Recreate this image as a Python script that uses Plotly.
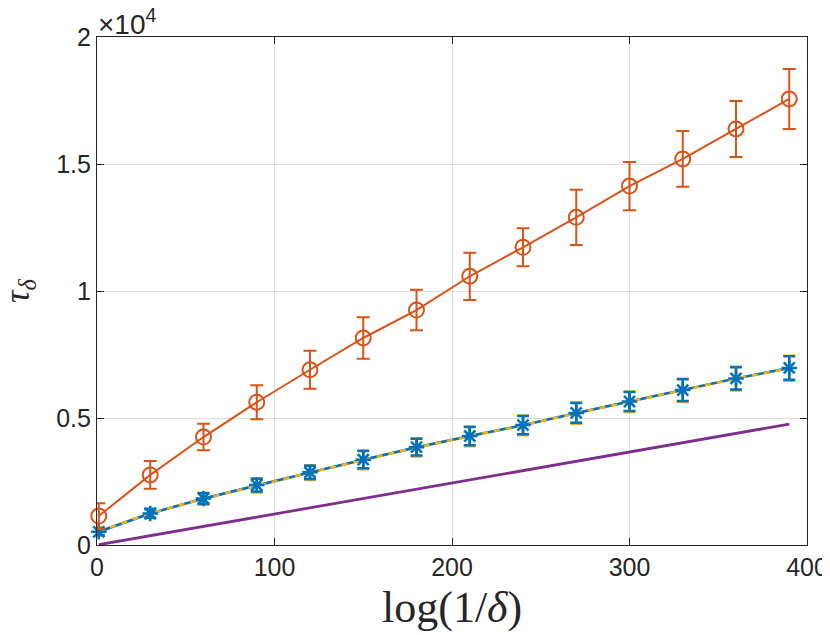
import plotly.graph_objects as go

x_vals = [1, 30, 60, 90, 120, 150, 180, 210, 240, 270, 300, 330, 360, 390]

orange_y = [1140, 2760, 4250, 5620, 6900, 8150, 9250, 10580, 11720, 12900, 14130, 15200, 16380, 17560]
orange_err = [500, 550, 520, 670, 750, 820, 800, 930, 750, 1090, 950, 1100, 1100, 1180]

blue_y = [520, 1240, 1830, 2360, 2860, 3360, 3850, 4290, 4720, 5200, 5650, 6100, 6560, 6970]
blue_err = [130, 165, 210, 250, 260, 340, 330, 360, 360, 390, 375, 430, 440, 460]

yellow_y = [530, 1250, 1820, 2350, 2850, 3350, 3840, 4280, 4710, 5190, 5640, 6090, 6550, 6960]
yellow_err = [160, 195, 240, 280, 290, 370, 360, 390, 390, 420, 405, 460, 470, 490]

purple_y = [12, 366, 732, 1098, 1464, 1830, 2196, 2562, 2928, 3294, 3660, 4026, 4392, 4760]

y_tickvals = [0, 5000, 10000, 15000, 20000]
y_ticktext = ["0", "0.5", "1", "1.5", "2"]
x_tickvals = [0, 100, 200, 300, 400]

BLUE = "#0072BD"
ORANGE = "#D95319"
YELLOW = "#EDB120"
PURPLE = "#7E2F8E"
AX = "#262626"

fig = go.Figure()

fig.add_trace(go.Scatter(x=x_vals, y=purple_y, mode="lines",
                         line=dict(color=PURPLE, width=2.8), cliponaxis=False))

fig.add_trace(go.Scatter(x=x_vals, y=yellow_y, mode="lines",
                         line=dict(color=YELLOW, width=2.5),
                         error_y=dict(type="data", array=yellow_err, color=YELLOW,
                                      thickness=2.5, width=6),
                         cliponaxis=False))

fig.add_trace(go.Scatter(x=x_vals, y=blue_y, mode="lines",
                         line=dict(color=BLUE, width=2.5),
                         error_y=dict(type="data", array=blue_err, color=BLUE,
                                      thickness=2.5, width=6),
                         cliponaxis=False))

fig.add_trace(go.Scatter(x=x_vals, y=yellow_y, mode="lines",
                         line=dict(color=YELLOW, width=2.5, dash="6px,6px"),
                         cliponaxis=False))

fig.add_trace(go.Scatter(x=x_vals, y=blue_y, mode="markers",
                         marker=dict(symbol="asterisk-open", size=13, color=BLUE,
                                     line=dict(color=BLUE, width=2.5)),
                         cliponaxis=False))

fig.add_trace(go.Scatter(x=x_vals, y=orange_y, mode="lines+markers",
                         line=dict(color=ORANGE, width=2),
                         marker=dict(symbol="circle-open", size=15, color=ORANGE,
                                     line=dict(color=ORANGE, width=2)),
                         error_y=dict(type="data", array=orange_err, color=ORANGE,
                                      thickness=2, width=6.5),
                         cliponaxis=False))

axis_common = dict(
    showline=True, linecolor=AX, linewidth=1.2, mirror="ticks",
    ticks="inside", ticklen=7, tickcolor=AX, tickwidth=1.2,
    showgrid=True, gridcolor="#DFDFDF", gridwidth=1, zeroline=False,
    automargin=False, ticklabeloverflow="allow",
    tickfont=dict(family="Liberation Sans, Arial, sans-serif", size=25, color=AX),
)

# the page body adds an 8px offset; margins compensate so the plot area sits where the reference has it
fig.update_layout(
    width=830, height=635,
    margin=dict(l=89, r=31, t=29, b=98),
    paper_bgcolor="white", plot_bgcolor="white",
    showlegend=False,
    xaxis=dict(range=[0, 400], tickvals=x_tickvals, **axis_common),
    yaxis=dict(range=[0, 20000], tickvals=y_tickvals, ticktext=y_ticktext, **axis_common),
    annotations=[
        dict(text="×10<sup>4</sup>", xref="paper", yref="paper", x=0.0, y=1.0,
             xanchor="left", yanchor="bottom", showarrow=False, yshift=-4, xshift=0,
             borderpad=0,
             font=dict(family="Liberation Sans, Arial, sans-serif", size=28, color=AX)),
        dict(text="log(1/<i>δ</i>)", xref="paper", yref="paper", x=0.5, y=0,
             xanchor="center", yanchor="middle", showarrow=False, yshift=-62,
             font=dict(family="Liberation Serif, DejaVu Serif, serif", size=44, color=AX)),
        dict(text="<i>τ</i><sub><i>δ</i></sub>", xref="paper", yref="paper", x=0, y=0.5,
             xanchor="center", yanchor="middle", showarrow=False, xshift=-78, textangle=-90,
             borderpad=0,
             font=dict(family="Liberation Serif, DejaVu Serif, serif", size=35, color=AX)),
    ],
)

fig.write_html("out.html")
